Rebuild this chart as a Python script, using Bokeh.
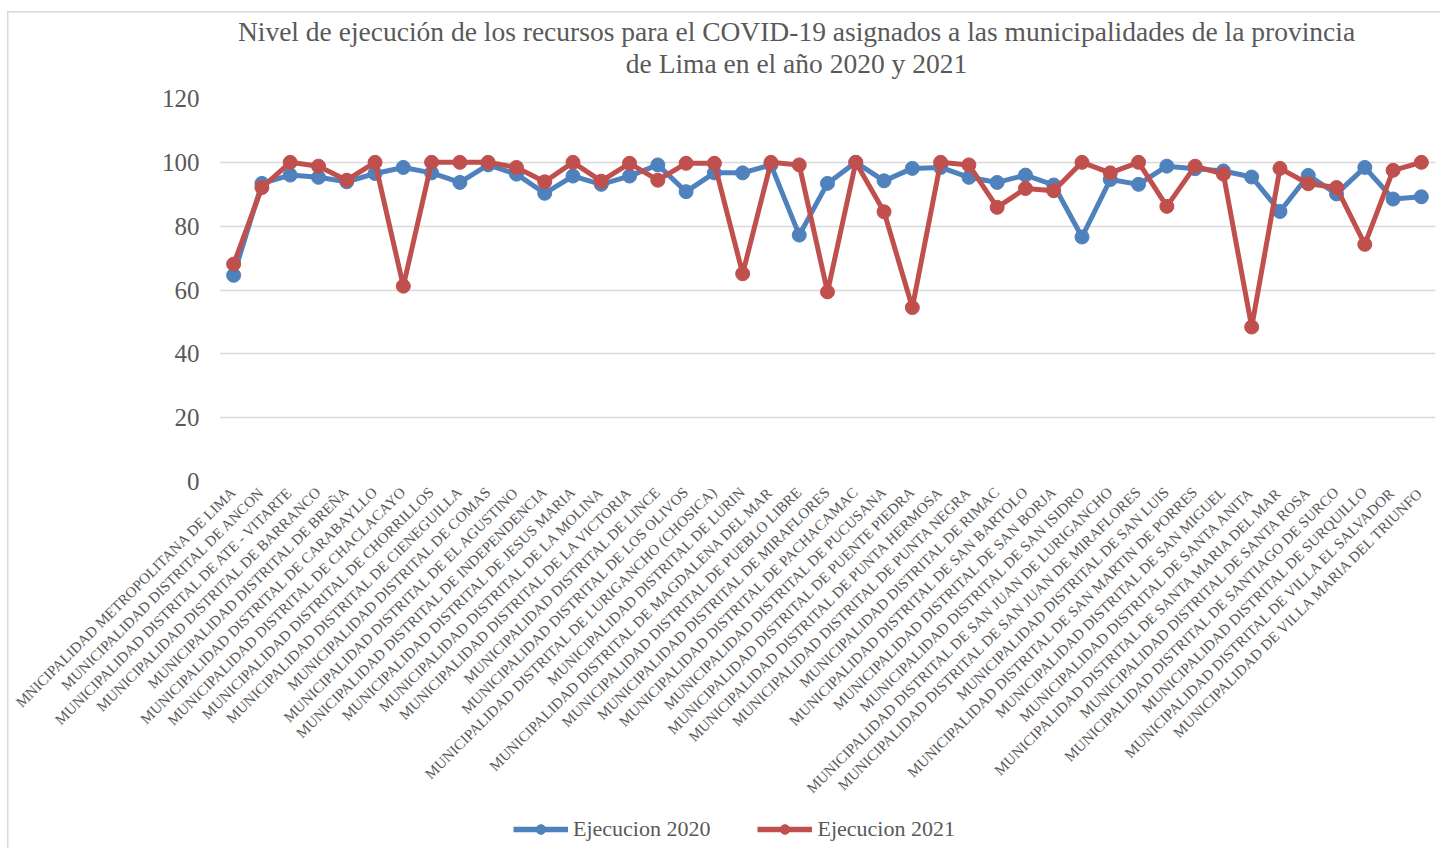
from math import pi
from bokeh.plotting import figure
from bokeh.layouts import column
from bokeh.models import (Legend, LegendItem, Label, FactorRange, Range1d,
                          FixedTicker, ColumnDataSource, InlineStyleSheet)
from bokeh.embed import file_html
from bokeh.resources import INLINE

municipalidades = [
    "MNICIPALIDAD METROPOLITANA DE LIMA",
    "MUNICIPALIDAD DISTRITAL DE ANCON",
    "MUNICIPALIDAD DISTRITAL DE ATE - VITARTE",
    "MUNICIPALIDAD DISTRITAL DE BARRANCO",
    "MUNICIPALIDAD DISTRITAL DE BREÑA",
    "MUNICIPALIDAD DISTRITAL DE CARABAYLLO",
    "MUNICIPALIDAD DISTRITAL DE CHACLACAYO",
    "MUNICIPALIDAD DISTRITAL DE CHORRILLOS",
    "MUNICIPALIDAD DISTRITAL DE CIENEGUILLA",
    "MUNICIPALIDAD DISTRITAL DE COMAS",
    "MUNICIPALIDAD DISTRITAL DE EL AGUSTINO",
    "MUNICIPALIDAD DISTRITAL DE INDEPENDENCIA",
    "MUNICIPALIDAD DISTRITAL DE JESUS MARIA",
    "MUNICIPALIDAD DISTRITAL DE LA MOLINA",
    "MUNICIPALIDAD DISTRITAL DE LA VICTORIA",
    "MUNICIPALIDAD DISTRITAL DE LINCE",
    "MUNICIPALIDAD DISTRITAL DE LOS OLIVOS",
    "MUNICIPALIDAD DISTRITAL DE LURIGANCHO (CHOSICA)",
    "MUNICIPALIDAD DISTRITAL DE LURIN",
    "MUNICIPALIDAD DISTRITAL DE MAGDALENA DEL MAR",
    "MUNICIPALIDAD DISTRITAL DE PUEBLO LIBRE",
    "MUNICIPALIDAD DISTRITAL DE MIRAFLORES",
    "MUNICIPALIDAD DISTRITAL DE PACHACAMAC",
    "MUNICIPALIDAD DISTRITAL DE PUCUSANA",
    "MUNICIPALIDAD DISTRITAL DE PUENTE PIEDRA",
    "MUNICIPALIDAD DISTRITAL DE PUNTA HERMOSA",
    "MUNICIPALIDAD DISTRITAL DE PUNTA NEGRA",
    "MUNICIPALIDAD DISTRITAL DE RIMAC",
    "MUNICIPALIDAD DISTRITAL DE SAN BARTOLO",
    "MUNICIPALIDAD DISTRITAL DE SAN BORJA",
    "MUNICIPALIDAD DISTRITAL DE SAN ISIDRO",
    "MUNICIPALIDAD DISTRITAL DE SAN JUAN DE LURIGANCHO",
    "MUNICIPALIDAD DISTRITAL DE SAN JUAN DE MIRAFLORES",
    "MUNICIPALIDAD DISTRITAL DE SAN LUIS",
    "MUNICIPALIDAD DISTRITAL DE SAN MARTIN DE PORRES",
    "MUNICIPALIDAD DISTRITAL DE SAN MIGUEL",
    "MUNICIPALIDAD DISTRITAL DE SANTA ANITA",
    "MUNICIPALIDAD DISTRITAL DE SANTA MARIA DEL MAR",
    "MUNICIPALIDAD DISTRITAL DE SANTA ROSA",
    "MUNICIPALIDAD DISTRITAL DE SANTIAGO DE SURCO",
    "MUNICIPALIDAD DISTRITAL DE SURQUILLO",
    "MUNICIPALIDAD DISTRITAL DE VILLA EL SALVADOR",
    "MUNICIPALIDAD DE VILLA MARIA DEL TRIUNFO",
]

ejecucion_2020 = [
    64.6, 93.4, 96.0, 95.3, 93.9, 96.5, 98.4, 96.7, 93.7, 99.2,
    96.3, 90.3, 95.7, 93.1, 95.7, 99.2, 90.8, 96.7, 96.7, 99.2,
    77.2, 93.4, 100.0, 94.2, 98.1, 98.4, 95.3, 93.7, 96.0, 92.9,
    76.6, 94.6, 93.1, 98.8, 98.0, 97.3, 95.4, 84.6, 95.9, 90.1,
    98.4, 88.5, 89.2,
]

ejecucion_2021 = [
    68.1, 92.1, 100.0, 98.8, 94.4, 100.0, 61.2, 100.0, 100.0, 100.0,
    98.4, 93.9, 100.0, 94.1, 99.7, 94.4, 99.7, 99.7, 65.1, 100.0,
    99.2, 59.4, 100.0, 84.5, 54.5, 100.0, 99.2, 85.9, 91.8, 91.1,
    100.0, 96.7, 100.0, 86.2, 98.8, 96.3, 48.4, 98.1, 93.3, 92.1,
    74.3, 97.5, 100.0,
]

y_ticks = [0, 20, 40, 60, 80, 100, 120]

titulo_1 = "Nivel de ejecución de los recursos para el COVID-19 asignados a las municipalidades de la provincia"
titulo_2 = "de Lima en el año 2020 y 2021"
serie_2020 = "Ejecucion 2020"
serie_2021 = "Ejecucion 2021"

BLUE = "#4f81bd"
RED = "#c0504d"
GRAY = "#595959"
GRID = "#d9d9d9"
SERIF = "Liberation Serif"
W = 1440
LEFT = 219   # left border of every strip (frames are aligned in the column)
RIGHT = 5

source = ColumnDataSource(dict(m=municipalidades, a=ejecucion_2020, b=ejecucion_2021))


def bare(fig):
    fig.outline_line_color = None
    fig.border_fill_color = None
    fig.background_fill_color = None
    fig.xgrid.visible = False
    fig.ygrid.visible = False
    fig.xaxis.visible = False
    fig.yaxis.visible = False


# ---- title strip -------------------------------------------------------
TH = 83
t = figure(width=W, height=TH, x_range=Range1d(0, 1), y_range=Range1d(0, 1),
           output_backend="svg", toolbar_location=None,
           min_border_left=LEFT, min_border_right=RIGHT,
           min_border_top=0, min_border_bottom=0)
bare(t)
for txt, yy in [(titulo_1, TH - 31), (titulo_2, TH - 63)]:
    t.add_layout(Label(x=796 - LEFT, y=yy, x_units="screen", y_units="screen", text=txt,
                       text_align="center", text_baseline="middle",
                       text_font=SERIF, text_font_size="27.5px", text_color=GRAY))

# ---- main chart --------------------------------------------------------
FH = 383
MH = 725
p = figure(width=W, height=MH,
           x_range=FactorRange(*municipalidades, range_padding=0),
           y_range=Range1d(0, 120),
           output_backend="svg", toolbar_location=None,
           min_border_left=LEFT, min_border_right=RIGHT,
           min_border_top=15, min_border_bottom=MH - 15 - FH)

p.outline_line_color = None
p.border_fill_color = None
p.background_fill_color = None

p.xgrid.visible = False
p.ygrid.ticker = FixedTicker(ticks=y_ticks)
p.ygrid.grid_line_color = GRID
p.ygrid.grid_line_width = 1.5

p.yaxis.ticker = FixedTicker(ticks=y_ticks)
p.yaxis.axis_line_color = None
p.yaxis.major_tick_line_color = None
p.yaxis.minor_tick_line_color = None
p.yaxis.major_tick_out = 0
p.yaxis.major_label_standoff = 20
p.yaxis.major_label_text_font = SERIF
p.yaxis.major_label_text_font_size = "25px"
p.yaxis.major_label_text_color = GRAY

p.xaxis.axis_line_color = None
p.xaxis.major_tick_line_color = None
p.xaxis.major_tick_out = 0
p.xaxis.major_label_orientation = pi / 4
p.xaxis.major_label_standoff = 8
p.xaxis.major_label_text_font = SERIF
p.xaxis.major_label_text_font_size = "15px"
p.xaxis.major_label_text_color = GRAY

p.line("m", "a", source=source, line_color=BLUE, line_width=5)
p.scatter("m", "a", source=source, size=14, fill_color=BLUE, line_color=BLUE)
p.line("m", "b", source=source, line_color=RED, line_width=5)
p.scatter("m", "b", source=source, size=14, fill_color=RED, line_color=RED)

# ---- legend strip ------------------------------------------------------
LH = 40
lg = figure(width=W, height=LH,
            x_range=FactorRange(*municipalidades, range_padding=0),
            y_range=Range1d(1000, 1001),
            output_backend="svg", toolbar_location=None,
            min_border_left=LEFT, min_border_right=RIGHT,
            min_border_top=0, min_border_bottom=0)
bare(lg)
gl1 = lg.line("m", "a", source=source, line_color=BLUE, line_width=5.5)
gs1 = lg.scatter("m", "a", source=source, size=14, fill_color=BLUE, line_color=BLUE)
gl2 = lg.line("m", "b", source=source, line_color=RED, line_width=5.5)
gs2 = lg.scatter("m", "b", source=source, size=14, fill_color=RED, line_color=RED)

legend = Legend(items=[LegendItem(label=serie_2020, renderers=[gl1, gs1]),
                       LegendItem(label=serie_2021, renderers=[gl2, gs2])],
                orientation="horizontal", location=(513 - LEFT, 6),
                glyph_width=55, glyph_height=24, label_standoff=5, spacing=47,
                label_text_font=SERIF, label_text_font_size="22px",
                label_text_color=GRAY, border_line_color=None,
                background_fill_alpha=0, padding=0, margin=0)
lg.add_layout(legend)

css = (":host { background:"
       " linear-gradient(#d9d9d9,#d9d9d9) 7px 11px / 1.5px 100% no-repeat,"
       " linear-gradient(#d9d9d9,#d9d9d9) 7px 11px / 100% 1.5px no-repeat, #ffffff; }")
layout = column(t, p, lg, spacing=0, stylesheets=[InlineStyleSheet(css=css)])

open("out.html", "w").write(file_html(layout, INLINE))
